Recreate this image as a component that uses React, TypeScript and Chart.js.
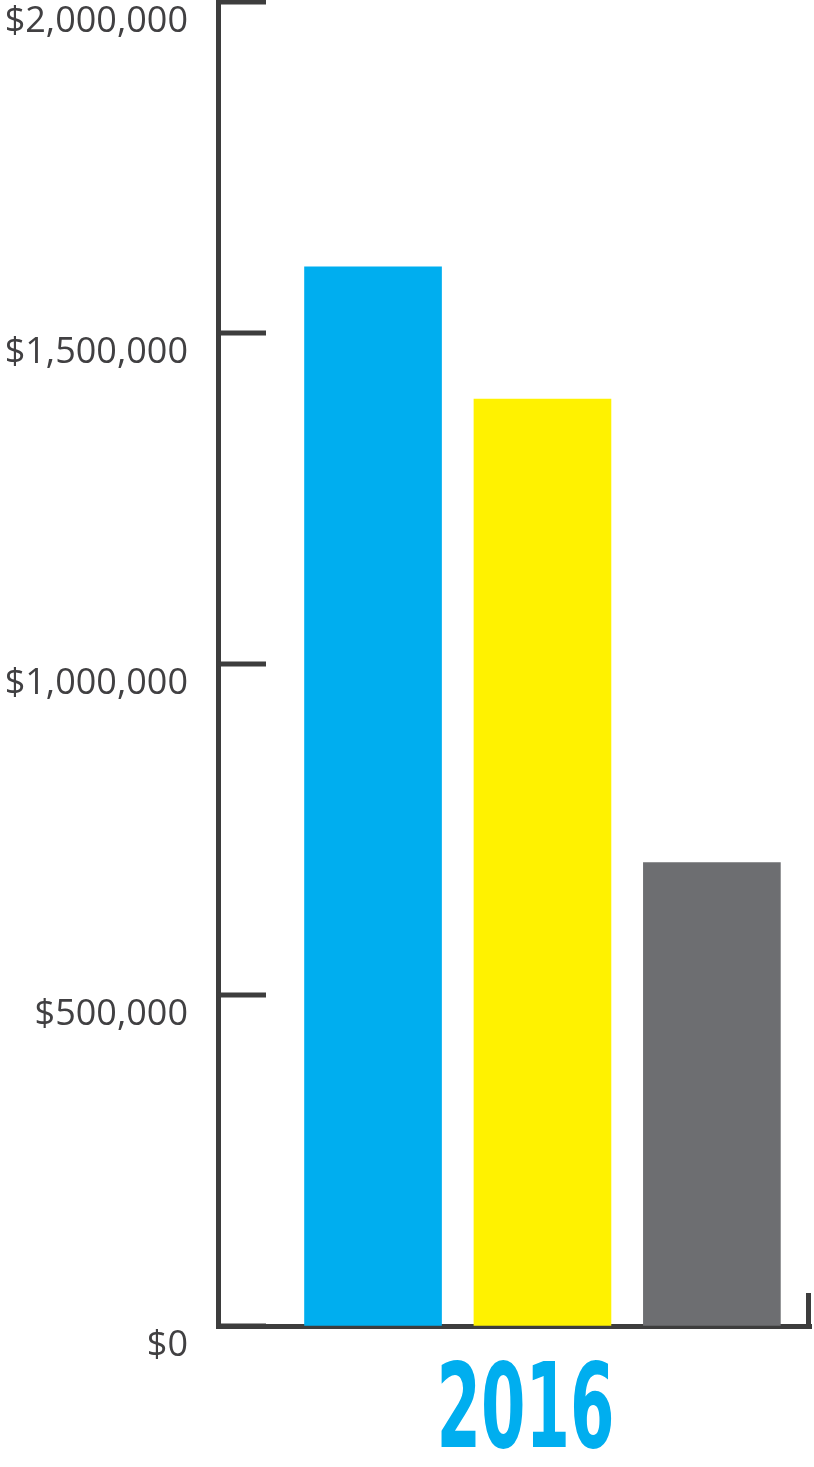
import React, { useEffect, useRef } from "react";
import { Chart, registerables } from "chart.js";

Chart.register(...registerables);

// ---- data ----
const YEAR_LABEL = "2016";
const BAR_POSITIONS = [1, 2, 3];
const BAR_VALUES = [1600000, 1400000, 700000];
const BAR_COLORS = ["#00AEEF", "#FFF200", "#6D6E71"];
const Y_MIN = 0;
const Y_MAX = 2000000;
const Y_STEP = 500000;

// ---- style ----
const AXIS_COLOR = "#3d3d3d";
const LABEL_COLOR = "#414042";
const YEAR_COLOR = "#00AEEF";

const decorPlugin = {
  id: "decor",
  afterDraw(chart: any) {
    const { ctx, chartArea, scales } = chart;
    const x = scales.x;
    const y = scales.y;
    ctx.save();
    ctx.strokeStyle = AXIS_COLOR;
    ctx.lineWidth = 5;
    ctx.lineCap = "butt";
    // inward tick marks
    for (const t of y.ticks) {
      const py = y.getPixelForValue(t.value);
      ctx.beginPath();
      ctx.moveTo(chartArea.left, py);
      ctx.lineTo(chartArea.left + 48, py);
      ctx.stroke();
    }
    // right-end tick
    ctx.beginPath();
    ctx.moveTo(chartArea.right - 2.5, chartArea.bottom + 2);
    ctx.lineTo(chartArea.right - 2.5, chartArea.bottom - 33);
    ctx.stroke();

    // year label
    ctx.font = 'bold 117px "Liberation Sans Narrow", "DejaVu Sans Condensed", sans-serif';
    ctx.fillStyle = YEAR_COLOR;
    ctx.textAlign = "center";
    ctx.textBaseline = "alphabetic";
    const w = ctx.measureText(YEAR_LABEL).width;
    const sx = 178 / w;
    const cx = x.getPixelForValue(1.9);
    ctx.translate(cx, 1447);
    ctx.scale(sx, 1);
    ctx.fillText(YEAR_LABEL, 0, 0);
    ctx.restore();
  },
};

export default function App() {
  const ref = useRef<HTMLCanvasElement | null>(null);

  useEffect(() => {
    document.body.style.margin = "0";
    const canvas = ref.current;
    if (!canvas) return;
    const chart = new Chart(canvas, {
      type: "bar",
      data: {
        datasets: [
          {
            label: YEAR_LABEL,
            data: BAR_POSITIONS.map((p, i) => ({ x: p, y: BAR_VALUES[i] })),
            backgroundColor: BAR_COLORS,
            borderWidth: 0,
            barThickness: 137,
          },
        ],
      },
      options: {
        animation: false,
        responsive: true,
        maintainAspectRatio: false,
        layout: { padding: { top: 2, right: 3, left: 0, bottom: 0 } },
        plugins: {
          legend: { display: false },
          tooltip: { enabled: false },
        },
        scales: {
          x: {
            type: "linear",
            min: 0.085,
            max: 3.585,
            offset: false,
            ticks: { display: false },
            grid: { drawOnChartArea: false, drawTicks: false, offset: false },
            border: { display: true, color: AXIS_COLOR, width: 5 },
            afterFit(scale: any) {
              scale.height = 141;
              scale.paddingLeft = 0;
              scale.paddingRight = 0;
            },
          },
          y: {
            min: Y_MIN,
            max: Y_MAX,
            ticks: {
              stepSize: Y_STEP,
              padding: 30,
              labelOffset: 20,
              color: LABEL_COLOR,
              font: { family: '"Open Sans", sans-serif', size: 36 },
              callback: (v: any) => "$" + Number(v).toLocaleString("en-US"),
            },
            grid: { drawOnChartArea: false, drawTicks: false },
            border: { display: true, color: AXIS_COLOR, width: 5 },
            afterFit(scale: any) {
              scale.width = 218;
              scale.paddingTop = 0;
              scale.paddingBottom = 0;
            },
          },
        },
      },
      plugins: [decorPlugin],
    });
    return () => chart.destroy();
  }, []);

  return (
    <div style={{ position: "absolute", left: 0, top: 0, width: 814, height: 1467 }}>
      <canvas ref={ref} />
    </div>
  );
}
